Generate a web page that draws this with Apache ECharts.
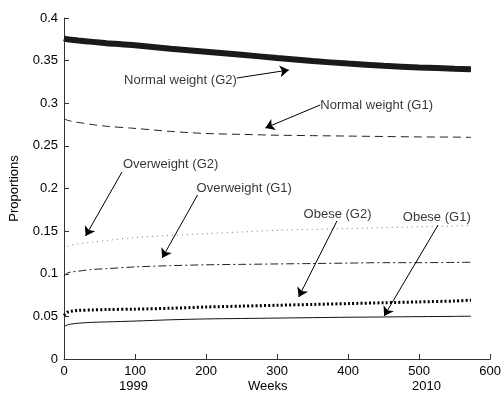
<!DOCTYPE html>
<html><head><meta charset="utf-8">
<script src="https://cdn.jsdelivr.net/npm/echarts@6/dist/echarts.min.js"></script>
<style>html,body{margin:0;padding:0;background:#fff}#c{width:504px;height:397px}</style>
</head><body><div id="c"></div>
<script>
var weeks = [0,2,5,10,20,40,60,100,150,200,250,300,350,400,450,500,550,573];
var normalG2 = [0.376,0.3755,0.375,0.3745,0.3735,0.372,0.3705,0.368,0.364,0.3605,0.357,0.353,0.3495,0.3465,0.344,0.342,0.3405,0.340];
var normalG1 = [0.282,0.281,0.280,0.279,0.2775,0.275,0.273,0.2705,0.267,0.2645,0.2635,0.2625,0.262,0.2615,0.261,0.2605,0.2603,0.260];
var overG2 = [0.128,0.130,0.132,0.1335,0.135,0.137,0.139,0.1425,0.145,0.147,0.149,0.151,0.152,0.153,0.154,0.155,0.156,0.157];
var overG1 = [0.097,0.099,0.101,0.102,0.103,0.105,0.106,0.108,0.1095,0.1105,0.111,0.1115,0.112,0.1125,0.113,0.113,0.1133,0.1135];
var obeseG2 = [0.051,0.053,0.055,0.056,0.057,0.0575,0.058,0.0585,0.0595,0.061,0.062,0.063,0.064,0.065,0.066,0.067,0.068,0.069];
var obeseG1 = [0.038,0.039,0.040,0.041,0.042,0.043,0.0435,0.0445,0.046,0.047,0.0475,0.048,0.0485,0.049,0.0493,0.0497,0.050,0.0502];
var xTicks = [0,100,200,300,400,500,600];
var yTicks = [0,0.05,0.1,0.15,0.2,0.25,0.3,0.35,0.4];
// annotations: [text, textX, textY, side, arrowFrom, arrowTo]
var annotations = [
  ['Normal weight (G2)', 243.3, 0.3273, 'left', [243.3,0.3296], [316.6,0.339]],
  ['Normal weight (G1)', 360.8, 0.298, 'right', [360.8,0.298], [283.4,0.271]],
  ['Overweight (G2)', 83, 0.2287, 'right', [81.6,0.2193], [30.4,0.1443]],
  ['Overweight (G1)', 186.6, 0.2006, 'right', [188,0.1924], [138.2,0.1185]],
  ['Obese (G2)', 337.3, 0.1701, 'right', [384.3,0.1619], [330.4,0.0727]],
  ['Obese (G1)', 477, 0.1666, 'right', [526.7,0.1572], [450.7,0.0504]]
];
function pairs(v){ return weeks.map(function(w,i){return [w,v[i]];}); }
var FONT = 'Liberation Sans, Arial, sans-serif';
var FS = 13;
var chart = echarts.init(document.getElementById('c'));
function lineSeries(name, v, style){
  return {name:name, type:'line', data:pairs(v), showSymbol:false, symbol:'none', smooth:0.3,
    lineStyle:style, z:3, animation:false, silent:true};
}
chart.setOption({
  animation:false,
  backgroundColor:'#fff',
  grid:{left:61,right:9,top:18,bottom:38},
  xAxis:{type:'value',min:0,max:600,interval:100,
    axisLine:{lineStyle:{color:'#333',width:1}},
    axisTick:{show:true,inside:true,length:5,lineStyle:{color:'#333',width:1}},
    axisLabel:{margin:6,color:'#000',fontSize:FS,fontFamily:FONT,formatter:function(v){return xTicks.indexOf(v)>=0?String(v):'';}},
    splitLine:{show:false}},
  yAxis:{type:'value',min:0,max:0.4,interval:0.05,
    name:'Proportions',nameLocation:'middle',nameGap:43,
    nameTextStyle:{color:'#000',fontSize:FS,fontFamily:FONT},
    axisLine:{show:true,lineStyle:{color:'#333',width:1}},
    axisTick:{show:true,inside:true,length:5,lineStyle:{color:'#333',width:1}},
    axisLabel:{margin:6,color:'#000',fontSize:FS,fontFamily:FONT,formatter:function(v){
      for(var i=0;i<yTicks.length;i++){ if(Math.abs(yTicks[i]-v)<1e-9) return String(+yTicks[i].toFixed(2)); } return '';}},
    splitLine:{show:false}},
  graphic:[
    {type:'text',left:119,top:380,style:{text:'1999',fill:'#000',font:FS+'px '+FONT}},
    {type:'text',left:248,top:380,style:{text:'Weeks',fill:'#000',font:FS+'px '+FONT}},
    {type:'text',left:412,top:380,style:{text:'2010',fill:'#000',font:FS+'px '+FONT}}
  ],
  series:[
    lineSeries('Normal weight (G2)', normalG2, {color:'#1a1a1a',width:6}),
    lineSeries('Normal weight (G1)', normalG1, {color:'#222',width:1,type:[8,5]}),
    lineSeries('Overweight (G2)', overG2, {color:'#777',width:1,type:[1,4]}),
    lineSeries('Overweight (G1)', overG1, {color:'#222',width:1,type:[8,3,2,3]}),
    lineSeries('Obese (G2)', obeseG2, {color:'#000',width:3,type:[2,2.2]}),
    lineSeries('Obese (G1)', obeseG1, {color:'#111',width:1}),
    {type:'lines',coordinateSystem:'cartesian2d',polyline:false,silent:true,animation:false,z:5,
      symbol:['none','arrow'],symbolSize:[0,9],
      lineStyle:{color:'#000',width:1,opacity:1,curveness:0},
      data:annotations.map(function(a){return {coords:[a[4],a[5]]};})},
    {type:'scatter',symbolSize:0,silent:true,animation:false,z:6,
      data:annotations.map(function(a){return {value:[a[1],a[2]],
        label:{show:true,position:a[3],distance:0,formatter:a[0],color:'#000',fontSize:FS,fontFamily:FONT}};})}
  ]
});
</script></body></html>
